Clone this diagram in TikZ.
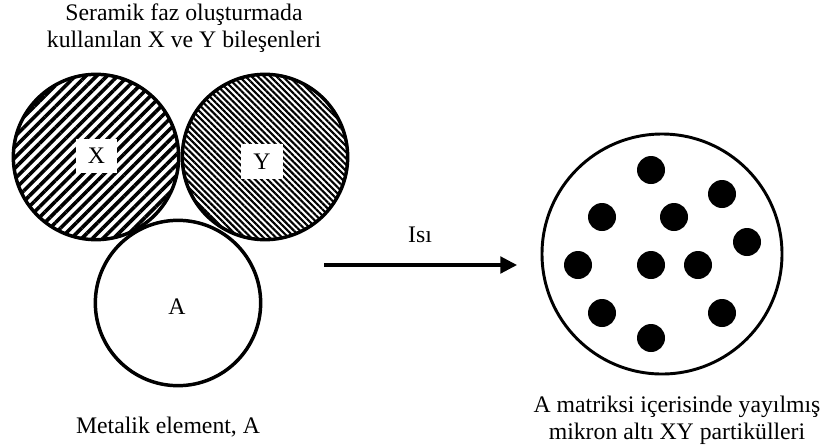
\documentclass[tikz,border=0pt]{standalone}
\usepackage{fontspec}
\setmainfont{Liberation Serif}
\usetikzlibrary{patterns.meta,arrows.meta}

\tikzset{
  ball/.style={circle, draw, line width=2.6pt, inner sep=0pt, minimum size=124pt},
  tag/.style={fill=white, inner sep=0pt, minimum width=31pt, minimum height=26pt},
  particle/.style={circle, fill=black, inner sep=0pt, minimum size=21pt},
  caption/.style={align=center, font=\fontsize{17.8}{20.3}\selectfont}
}

\begin{document}
\begin{tikzpicture}[x=0.75pt, y=-0.75pt]
\useasboundingbox (0,0) rectangle (824,447);

% ceramic components and the metal
\node[ball, pattern={Lines[angle=45, distance=5.6pt, line width=2.7pt]}] (x) at (96,157) {};
\node[ball, pattern={Lines[angle=-45, distance=3.3pt, line width=1.6pt]}] (y) at (265,157) {};
\node[ball, fill=white] (a) at (178,303) {};
\node[tag, caption] (xlab) at (96.5,156) {X};
\node[tag, caption] (ylab) at (262,161.5) {Y};
\node[caption] (alab) at (177,307) {A};

\node[caption] (top) at (184,28) {Seramik faz oluşturmada\\kullanılan X ve Y bileşenleri};
\node[caption] (metal) at (168,427) {Metalik element, A};

% heat
\coordinate (heatstart) at (324,265);
\coordinate (heatend) at (517,265);
\draw[line width=2.3pt, -{Triangle[length=12.5pt, width=12.5pt]}] (heatstart) -- (heatend);
\node[caption] (heat) at (420,235) {Isı};

% matrix with particles
\node[circle, draw, line width=2.2pt, inner sep=0pt, minimum size=180pt] (matrix) at (662,254) {};
\foreach \px/\py [count=\i] in {651/170, 722/194, 602/217, 674/217, 747/242, 578/265,
    651/265, 698/265, 602/313, 722/313, 651/338}
  \node[particle] (dot\i) at (\px,\py) {};
\node[caption] (result) at (677,420) {A matriksi içerisinde yayılmış\\mikron altı XY partikülleri};
\end{tikzpicture}
\end{document}
